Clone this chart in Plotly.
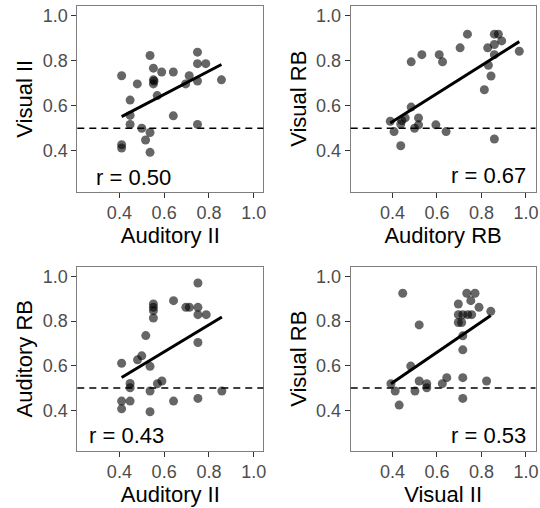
import numpy as np
import plotly.graph_objects as go

# ---- data ----
# Panel 1: Auditory II vs Visual II
p1_x = [0.410, 0.410, 0.410, 0.448, 0.448, 0.448, 0.480, 0.500, 0.517, 0.537, 0.537, 0.537,
        0.552, 0.552, 0.552, 0.555, 0.569, 0.589, 0.641, 0.641, 0.696, 0.712, 0.749, 0.749,
        0.749, 0.749, 0.786, 0.856]
p1_y = [0.733, 0.427, 0.412, 0.625, 0.557, 0.517, 0.697, 0.500, 0.448, 0.823, 0.481, 0.393,
        0.767, 0.715, 0.697, 0.710, 0.645, 0.750, 0.750, 0.555, 0.697, 0.733, 0.838, 0.787,
        0.710, 0.517, 0.787, 0.715]
# Panel 2: Auditory RB vs Visual RB
p2_x = [0.390, 0.407, 0.437, 0.437, 0.442, 0.457, 0.484, 0.484, 0.499, 0.517, 0.517, 0.532,
        0.595, 0.610, 0.625, 0.641, 0.704, 0.737, 0.813, 0.828, 0.831, 0.843, 0.858, 0.858,
        0.858, 0.858, 0.876, 0.891, 0.970]
p2_y = [0.531, 0.485, 0.519, 0.422, 0.534, 0.546, 0.594, 0.795, 0.500, 0.546, 0.515, 0.827,
        0.515, 0.827, 0.795, 0.485, 0.857, 0.918, 0.671, 0.857, 0.780, 0.732, 0.918, 0.872,
        0.827, 0.452, 0.918, 0.888, 0.842]
# Panel 3: Auditory II vs Auditory RB
p3_x = [0.410, 0.410, 0.410, 0.448, 0.448, 0.448, 0.481, 0.500, 0.518, 0.537, 0.537, 0.537,
        0.552, 0.552, 0.552, 0.552, 0.570, 0.590, 0.642, 0.642, 0.697, 0.713, 0.751, 0.751,
        0.751, 0.751, 0.751, 0.788, 0.858]
p3_y = [0.611, 0.441, 0.406, 0.520, 0.501, 0.441, 0.626, 0.644, 0.735, 0.597, 0.486, 0.393,
        0.877, 0.862, 0.847, 0.814, 0.519, 0.531, 0.892, 0.441, 0.862, 0.862, 0.971, 0.862,
        0.829, 0.704, 0.453, 0.829, 0.486]
# Panel 4: Visual II vs Visual RB
p4_x = [0.393, 0.412, 0.430, 0.446, 0.482, 0.501, 0.520, 0.520, 0.554, 0.554, 0.624, 0.644,
        0.696, 0.696, 0.696, 0.711, 0.716, 0.716, 0.716, 0.716, 0.716, 0.734, 0.738, 0.752,
        0.756, 0.771, 0.789, 0.823, 0.842]
p4_y = [0.519, 0.486, 0.423, 0.925, 0.598, 0.486, 0.783, 0.531, 0.519, 0.501, 0.519, 0.546,
        0.877, 0.829, 0.794, 0.794, 0.829, 0.734, 0.671, 0.546, 0.453, 0.925, 0.829, 0.892,
        0.829, 0.925, 0.862, 0.531, 0.844]

x_titles = ["Auditory II", "Auditory RB", "Auditory II", "Visual II"]
y_titles = ["Visual II", "Visual RB", "Auditory RB", "Visual RB"]
r_labels = ["r = 0.50", "r = 0.67", "r = 0.43", "r = 0.53"]
chance = 0.5
tick_vals = [0.4, 0.6, 0.8, 1.0]
tick_text = ["0.4", "0.6", "0.8", "1.0"]

panels = [(p1_x, p1_y), (p2_x, p2_y), (p3_x, p3_y), (p4_x, p4_y)]

# ---- layout geometry ----
W, H = 540, 508
xdom = [[77.3 / W, 263.3 / W], [350.7 / W, 535.5 / W]]
ydom = [[1 - 191.5 / H, 1 - 6 / H], [1 - 450.5 / H, 1 - 267 / H]]
xr = [0.212, 1.043]
yr = [0.219, 1.043]
r_pos = [(0.088, 0.078, "left"), (0.962, 0.084, "right"),
         (0.052, 0.081, "left"), (0.962, 0.081, "right")]

FONT = "Liberation Sans, Arial, Helvetica, sans-serif"

fig = go.Figure()
layout = dict(width=W, height=H, margin=dict(l=0, r=0, t=0, b=0),
              paper_bgcolor="white", plot_bgcolor="white", showlegend=False,
              font=dict(family=FONT))
shapes, annotations = [], []

for i, (px, py) in enumerate(panels):
    k = "" if i == 0 else str(i + 1)
    row, col = divmod(i, 2)
    xa, ya = "x" + k, "y" + k
    fig.add_trace(go.Scatter(x=px, y=py, mode="markers", xaxis=xa, yaxis=ya,
                             marker=dict(size=9, color="rgba(0,0,0,0.6)", line=dict(width=0))))
    slope, icpt = np.polyfit(px, py, 1)
    lx = np.array([min(px), max(px)])
    fig.add_trace(go.Scatter(x=lx, y=slope * lx + icpt, mode="lines", xaxis=xa, yaxis=ya,
                             line=dict(color="black", width=3)))
    axcommon = dict(showgrid=False, zeroline=False, showline=True, mirror=True,
                    linecolor="#7f7f7f", linewidth=1, ticks="outside", ticklen=5,
                    tickwidth=1, tickcolor="#333333", tickvals=tick_vals, ticktext=tick_text,
                    tickfont=dict(size=18, color="#4d4d4d", family=FONT), automargin=False)
    layout["xaxis" + k] = dict(axcommon, domain=xdom[col], range=xr, anchor=ya,
                               title=dict(text=x_titles[i], font=dict(size=22, color="black"),
                                          standoff=3))
    layout["yaxis" + k] = dict(axcommon, domain=ydom[row], range=yr, anchor=xa,
                               title=dict(text=y_titles[i], font=dict(size=22, color="black"),
                                          standoff=3))
    shapes.append(dict(type="line", xref=xa + " domain", yref=ya, x0=0, x1=1,
                       y0=chance, y1=chance, line=dict(color="black", width=1.5, dash="7px,5px")))
    ax_, ay_, anc = r_pos[i]
    annotations.append(dict(text=r_labels[i], xref=xa + " domain", yref=ya + " domain",
                            x=ax_, y=ay_, xanchor=anc, yanchor="middle", showarrow=False,
                            font=dict(size=22, color="black", family=FONT)))

layout["shapes"] = shapes
layout["annotations"] = annotations
fig.update_layout(**layout)
fig.write_html("out.html")
